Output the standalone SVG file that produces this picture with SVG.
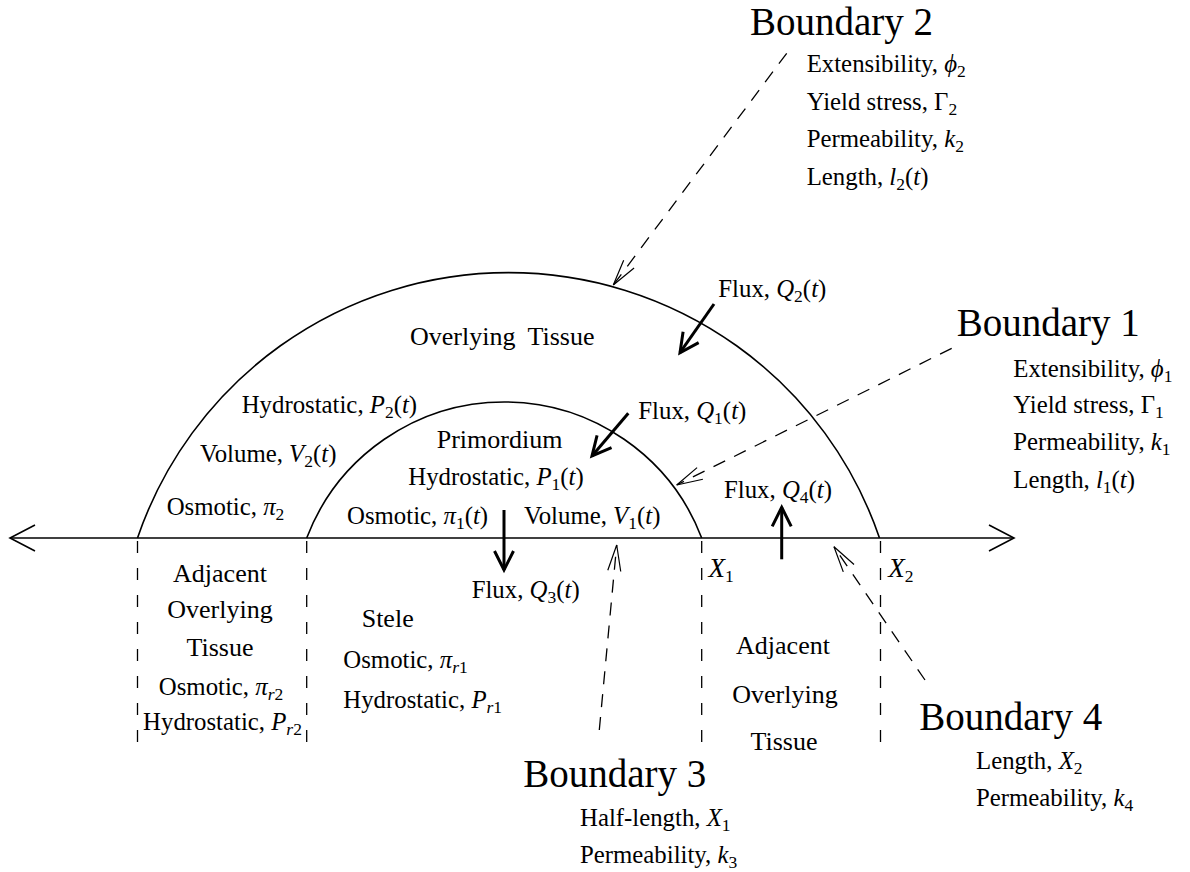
<svg xmlns="http://www.w3.org/2000/svg" width="1190" height="872" viewBox="0 0 1190 872">
<style>
text { font-family: "Liberation Serif", "Times New Roman", serif; fill: #000; }
.p { font-size: 24.8px; }
.ttl { font-size: 26px; }
.big { font-size: 39px; }
.x { font-size: 27px; font-style: italic; }
.i { font-style: italic; }
.s { font-size: 17.5px; font-style: normal; }
.si { font-size: 17.5px; font-style: italic; }
.curve { fill: none; stroke: #000; stroke-width: 1.6; }
.vdash { fill: none; stroke: #000; stroke-width: 1.3; stroke-dasharray: 12 15; }
.bdash { fill: none; stroke: #000; stroke-width: 1.3; stroke-dasharray: 13 10; marker-end: url(#thin); }
.flux { fill: none; stroke: #000; stroke-width: 3; marker-end: url(#thick); }
.axis { fill: none; stroke: #000; stroke-width: 1.6; marker-start: url(#axhead); marker-end: url(#axhead); }
</style>
<defs>
<marker id="axhead" markerUnits="userSpaceOnUse" markerWidth="40" markerHeight="40" refX="0" refY="0" orient="auto-start-reverse" overflow="visible">
<path d="M -25 -13 L 0 0 L -25 13" fill="none" stroke="#000" stroke-width="1.6" stroke-dasharray="none"/>
</marker>
<marker id="thin" markerUnits="userSpaceOnUse" markerWidth="40" markerHeight="40" refX="0" refY="0" orient="auto" overflow="visible">
<path d="M -26 -6.5 L 0 0 L -26 6.5" fill="none" stroke="#000" stroke-width="1.2" stroke-dasharray="none"/>
</marker>
<marker id="thick" markerUnits="userSpaceOnUse" markerWidth="40" markerHeight="40" refX="0" refY="0" orient="auto" overflow="visible">
<path d="M -19 -9.5 L 0 0 L -19 9.5" fill="none" stroke="#000" stroke-width="3" stroke-linejoin="miter" stroke-dasharray="none"/>
</marker>
</defs>
<rect width="1190" height="872" fill="#fff"/>

<g id="shapes">
<path class="curve" d="M 137.5 538 A 392 392 0 0 1 879.5 538"/>
<path class="curve" d="M 306.7 538 A 211.4 211.4 0 0 1 701.7 538"/>
<line class="vdash" x1="137.5" y1="541" x2="137.5" y2="750"/>
<line class="vdash" x1="306.7" y1="541" x2="306.7" y2="750"/>
<line class="vdash" x1="701.7" y1="541" x2="701.7" y2="750"/>
<line class="vdash" x1="880.5" y1="541" x2="880.5" y2="750"/>
</g>

<g id="connectors">
<line class="axis" x1="10" y1="538" x2="1014" y2="538"/>
<line class="bdash" x1="786.7" y1="53.3" x2="613.3" y2="285"/>
<line class="bdash" x1="951.7" y1="348.3" x2="676.7" y2="485"/>
<line class="bdash" x1="599.3" y1="730" x2="616.7" y2="545"/>
<line class="bdash" x1="925" y1="680" x2="834" y2="546.7"/>
<line class="flux" x1="714" y1="304" x2="680" y2="352.7"/>
<line class="flux" x1="628.3" y1="413.3" x2="592" y2="456"/>
<line class="flux" x1="504" y1="510" x2="504" y2="570"/>
<line class="flux" x1="781.7" y1="559.3" x2="781.7" y2="507.3"/>
</g>

<g id="overlying-tissue">
<text class="ttl" x="410" y="345" word-spacing="6">Overlying Tissue</text>
<text class="p" x="241.7" y="412.5">Hydrostatic, <tspan class="i">P</tspan><tspan class="s" dy="5">2</tspan><tspan dy="-5">(</tspan><tspan class="i">t</tspan>)</text>
<text class="p" x="200" y="461.7">Volume, <tspan class="i">V</tspan><tspan class="s" dy="5">2</tspan><tspan dy="-5">(</tspan><tspan class="i">t</tspan>)</text>
<text class="p" x="166.7" y="515">Osmotic, <tspan class="i">π</tspan><tspan class="s" dy="5">2</tspan></text>
</g>

<g id="primordium">
<text class="ttl" x="436.7" y="448.3">Primordium</text>
<text class="p" x="408.3" y="485">Hydrostatic, <tspan class="i">P</tspan><tspan class="s" dy="5">1</tspan><tspan dy="-5">(</tspan><tspan class="i">t</tspan>)</text>
<text class="p" x="347" y="524">Osmotic, <tspan class="i">π</tspan><tspan class="s" dy="5">1</tspan><tspan dy="-5">(</tspan><tspan class="i">t</tspan>)</text>
<text class="p" x="524" y="524">Volume, <tspan class="i">V</tspan><tspan class="s" dy="5">1</tspan><tspan dy="-5">(</tspan><tspan class="i">t</tspan>)</text>
</g>

<g id="stele">
<text class="ttl" x="361.7" y="626.7">Stele</text>
<text class="p" x="343.3" y="668.3">Osmotic, <tspan class="i">π</tspan><tspan class="si" dy="5">r</tspan><tspan class="s">1</tspan></text>
<text class="p" x="343.3" y="708">Hydrostatic, <tspan class="i">P</tspan><tspan class="si" dy="5">r</tspan><tspan class="s">1</tspan></text>
</g>

<g id="adjacent-left">
<text class="ttl" x="220" y="581.7" text-anchor="middle">Adjacent</text>
<text class="ttl" x="220" y="618.3" text-anchor="middle">Overlying</text>
<text class="ttl" x="220" y="656" text-anchor="middle">Tissue</text>
<text class="p" x="221" y="695" text-anchor="middle">Osmotic, <tspan class="i">π</tspan><tspan class="si" dy="5">r</tspan><tspan class="s">2</tspan></text>
<text class="p" x="222.5" y="730" text-anchor="middle">Hydrostatic, <tspan class="i">P</tspan><tspan class="si" dy="5">r</tspan><tspan class="s">2</tspan></text>
</g>

<g id="adjacent-right">
<text class="ttl" x="783" y="654.3" text-anchor="middle">Adjacent</text>
<text class="ttl" x="785" y="703.3" text-anchor="middle">Overlying</text>
<text class="ttl" x="784" y="750" text-anchor="middle">Tissue</text>
</g>

<g id="x-labels">
<text class="x" x="708.5" y="577.3">X<tspan class="s" dy="5">1</tspan></text>
<text class="x" x="888.3" y="577.3">X<tspan class="s" dy="5">2</tspan></text>
</g>

<g id="fluxes">
<text class="p" x="718.3" y="297">Flux, <tspan class="i">Q</tspan><tspan class="s" dy="5">2</tspan><tspan dy="-5">(</tspan><tspan class="i">t</tspan>)</text>
<text class="p" x="638.3" y="419">Flux, <tspan class="i">Q</tspan><tspan class="s" dy="5">1</tspan><tspan dy="-5">(</tspan><tspan class="i">t</tspan>)</text>
<text class="p" x="471.7" y="598.3">Flux, <tspan class="i">Q</tspan><tspan class="s" dy="5">3</tspan><tspan dy="-5">(</tspan><tspan class="i">t</tspan>)</text>
<text class="p" x="724" y="498.3">Flux, <tspan class="i">Q</tspan><tspan class="s" dy="5">4</tspan><tspan dy="-5">(</tspan><tspan class="i">t</tspan>)</text>
</g>

<g id="boundary-1">
<text class="big" x="956.7" y="336">Boundary 1</text>
<text class="p" x="1013.3" y="376.7">Extensibility, <tspan class="i">ϕ</tspan><tspan class="s" dy="5">1</tspan></text>
<text class="p" x="1013.3" y="413.3">Yield stress, Γ<tspan class="s" dy="5">1</tspan></text>
<text class="p" x="1013.3" y="450">Permeability, <tspan class="i">k</tspan><tspan class="s" dy="5">1</tspan></text>
<text class="p" x="1013.3" y="488.3">Length, <tspan class="i">l</tspan><tspan class="s" dy="5">1</tspan><tspan dy="-5">(</tspan><tspan class="i">t</tspan>)</text>
</g>

<g id="boundary-2">
<text class="big" x="750" y="35">Boundary 2</text>
<text class="p" x="806.7" y="72">Extensibility, <tspan class="i">ϕ</tspan><tspan class="s" dy="5">2</tspan></text>
<text class="p" x="806.7" y="110">Yield stress, Γ<tspan class="s" dy="5">2</tspan></text>
<text class="p" x="806.7" y="147">Permeability, <tspan class="i">k</tspan><tspan class="s" dy="5">2</tspan></text>
<text class="p" x="806.7" y="184.5">Length, <tspan class="i">l</tspan><tspan class="s" dy="5">2</tspan><tspan dy="-5">(</tspan><tspan class="i">t</tspan>)</text>
</g>

<g id="boundary-3">
<text class="big" x="523.3" y="786.7">Boundary 3</text>
<text class="p" x="580" y="826">Half-length, <tspan class="i">X</tspan><tspan class="s" dy="5">1</tspan></text>
<text class="p" x="580" y="862.7">Permeability, <tspan class="i">k</tspan><tspan class="s" dy="5">3</tspan></text>
</g>

<g id="boundary-4">
<text class="big" x="919.3" y="730">Boundary 4</text>
<text class="p" x="976" y="769.3">Length, <tspan class="i">X</tspan><tspan class="s" dy="5">2</tspan></text>
<text class="p" x="976" y="806">Permeability, <tspan class="i">k</tspan><tspan class="s" dy="5">4</tspan></text>
</g>
</svg>
